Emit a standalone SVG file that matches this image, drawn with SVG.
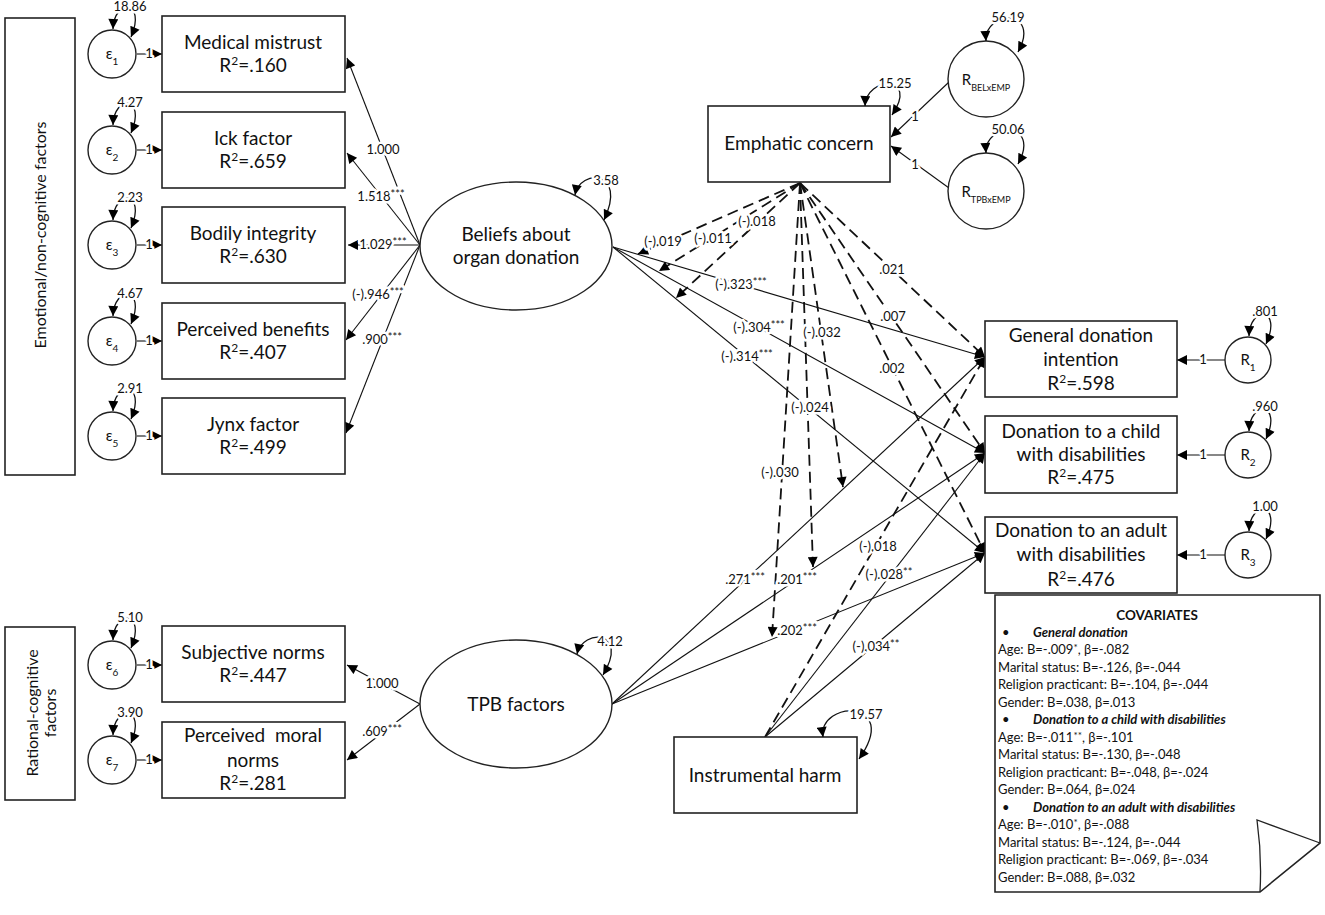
<svg xmlns="http://www.w3.org/2000/svg" width="1325" height="915" viewBox="0 0 1325 915">
<defs>
<marker id="ah" viewBox="0 0 10 10" refX="10" refY="5" markerWidth="12" markerHeight="10" markerUnits="userSpaceOnUse" orient="auto-start-reverse"><path d="M0,0 L10,5 L0,10 Z" fill="#000"/></marker>
</defs>
<style>
text { font-family: Lato, "Open Sans", "Liberation Sans", sans-serif; fill: #111; }
.box { fill: #fff; stroke: #222; stroke-width: 1.6; }
.node { fill: #fff; stroke: #222; stroke-width: 1.4; }
.t { font-size: 19px; text-anchor: middle; }
.ln { fill: none; stroke: #111; stroke-width: 1.1; marker-end: url(#ah); }
.dl { fill: none; stroke: #111; stroke-width: 1.8; stroke-dasharray: 11 6; marker-end: url(#ah); }
.loop { fill: none; stroke: #111; stroke-width: 1.3; marker-start: url(#ah); marker-end: url(#ah); }
.lbl { font-size: 13px; text-anchor: middle; paint-order: stroke; stroke: #fff; stroke-width: 5px; stroke-linejoin: round; }
.st { font-size: 11px; }
.cat { font-size: 16px; text-anchor: middle; }
.eps { font-size: 15px; text-anchor: middle; }
.cov { font-size: 13px; }
.covh { font-size: 13px; font-style: italic; font-weight: bold; }
</style>
<rect width="1325" height="915" fill="#fff"/>

<!-- connectors -->
<g id="connectors">
  <path class="ln" d="M420,245 L347,58"/>
  <path class="ln" d="M420,245 L347,153"/>
  <path class="ln" d="M420,245 L348,245"/>
  <path class="ln" d="M420,245 L346,340"/>
  <path class="ln" d="M420,245 L346,433"/>
  <path class="ln" d="M420,704 L347,665"/>
  <path class="ln" d="M420,704 L347,760"/>
  <path class="ln" d="M137,54 L162,54"/>
  <path class="ln" d="M137,150 L162,150"/>
  <path class="ln" d="M137,245 L162,245"/>
  <path class="ln" d="M137,341 L162,341"/>
  <path class="ln" d="M137,436 L162,436"/>
  <path class="ln" d="M137,665 L162,665"/>
  <path class="ln" d="M137,760 L162,760"/>
  <path class="ln" d="M1225,360 L1177,360"/>
  <path class="ln" d="M1225,455 L1177,455"/>
  <path class="ln" d="M1225,555 L1177,555"/>
  <path class="ln" d="M949,82 L891,137"/>
  <path class="ln" d="M949,188 L891,146"/>
  <path class="ln" d="M613,247 L985,357"/>
  <path class="ln" d="M613,247 L985,453"/>
  <path class="ln" d="M613,247 L985,553"/>
  <path class="ln" d="M612,704 L985,357"/>
  <path class="ln" d="M612,704 L985,453"/>
  <path class="ln" d="M612,704 L985,553"/>
  <path class="dl" d="M800,183 L985,357"/>
  <path class="dl" d="M800,183 L985,453"/>
  <path class="dl" d="M800,183 L985,553"/>
  <path class="dl" d="M800,183 L638,254"/>
  <path class="dl" d="M800,183 L659,271"/>
  <path class="dl" d="M800,183 L676,298"/>
  <path class="dl" d="M800,183 L843,487"/>
  <path class="dl" d="M800,183 L813,567"/>
  <path class="dl" d="M800,183 L772,637"/>
  <path class="dl" d="M765,737 L985,357"/>
  <path class="ln" d="M765,737 L985,453"/>
  <path class="ln" d="M765,737 L985,553"/>
</g>

<!-- connector labels -->
<g id="connector-labels">
  <text class="lbl" x="383" y="154">1.000</text>
  <text class="lbl" x="381" y="201">1.518<tspan class="st" dy="-3">***</tspan></text>
  <text class="lbl" x="383" y="249">1.029<tspan class="st" dy="-3">***</tspan></text>
  <text class="lbl" x="378" y="299">(-).946<tspan class="st" dy="-3">***</tspan></text>
  <text class="lbl" x="382" y="344">.900<tspan class="st" dy="-3">***</tspan></text>
  <text class="lbl" x="382" y="688">1.000</text>
  <text class="lbl" x="382" y="736">.609<tspan class="st" dy="-3">***</tspan></text>
  <text class="lbl" x="149" y="58">1</text>
  <text class="lbl" x="149" y="154">1</text>
  <text class="lbl" x="149" y="249">1</text>
  <text class="lbl" x="149" y="345">1</text>
  <text class="lbl" x="149" y="440">1</text>
  <text class="lbl" x="149" y="669">1</text>
  <text class="lbl" x="149" y="764">1</text>
  <text class="lbl" x="1203" y="364">1</text>
  <text class="lbl" x="1203" y="459">1</text>
  <text class="lbl" x="1203" y="559">1</text>
  <text class="lbl" x="915" y="121">1</text>
  <text class="lbl" x="915" y="169">1</text>
  <text class="lbl" x="741" y="289">(-).323<tspan class="st" dy="-3">***</tspan></text>
  <text class="lbl" x="759" y="332">(-).304<tspan class="st" dy="-3">***</tspan></text>
  <text class="lbl" x="747" y="361">(-).314<tspan class="st" dy="-3">***</tspan></text>
  <text class="lbl" x="745" y="584">.271<tspan class="st" dy="-3">***</tspan></text>
  <text class="lbl" x="797" y="584">.201<tspan class="st" dy="-3">***</tspan></text>
  <text class="lbl" x="797" y="635">.202<tspan class="st" dy="-3">***</tspan></text>
  <text class="lbl" x="892" y="274">.021</text>
  <text class="lbl" x="893" y="321">.007</text>
  <text class="lbl" x="892" y="373">.002</text>
  <text class="lbl" x="663" y="246">(-).019</text>
  <text class="lbl" x="713" y="243">(-).011</text>
  <text class="lbl" x="757" y="226">(-).018</text>
  <text class="lbl" x="822" y="337">(-).032</text>
  <text class="lbl" x="810" y="412">(-).024</text>
  <text class="lbl" x="780" y="477">(-).030</text>
  <text class="lbl" x="878" y="551">(-).018</text>
  <text class="lbl" x="889" y="579">(-).028<tspan class="st" dy="-3">**</tspan></text>
  <text class="lbl" x="876" y="651">(-).034<tspan class="st" dy="-3">**</tspan></text>
</g>

<!-- category boxes -->
<g id="cat-emotional">
  <rect class="box" x="5" y="18" width="70" height="457"/>
  <text class="cat" transform="translate(46,235) rotate(-90)">Emotional/non-cognitive factors</text>
</g>
<g id="cat-rational">
  <rect class="box" x="5" y="627" width="70" height="173"/>
  <text class="cat" transform="translate(38,713) rotate(-90)">Rational-cognitive</text>
  <text class="cat" transform="translate(56,713) rotate(-90)">factors</text>
</g>

<!-- error terms -->
<g id="e1"><circle class="node" cx="112" cy="54" r="24"/><text class="eps" x="112" y="59">ε<tspan font-size="10" baseline-shift="sub">1</tspan></text>
  <path class="loop" d="M113,29 C114,-2 147,0 131,37"/><text class="lbl" x="130" y="11">18.86</text></g>
<g id="e2"><circle class="node" cx="112" cy="150" r="24"/><text class="eps" x="112" y="155">ε<tspan font-size="10" baseline-shift="sub">2</tspan></text>
  <path class="loop" d="M113,125 C114,94 147,96 131,133"/><text class="lbl" x="130" y="107">4.27</text></g>
<g id="e3"><circle class="node" cx="112" cy="245" r="24"/><text class="eps" x="112" y="250">ε<tspan font-size="10" baseline-shift="sub">3</tspan></text>
  <path class="loop" d="M113,220 C114,189 147,191 131,228"/><text class="lbl" x="130" y="202">2.23</text></g>
<g id="e4"><circle class="node" cx="112" cy="341" r="24"/><text class="eps" x="112" y="346">ε<tspan font-size="10" baseline-shift="sub">4</tspan></text>
  <path class="loop" d="M113,316 C114,285 147,287 131,324"/><text class="lbl" x="130" y="298">4.67</text></g>
<g id="e5"><circle class="node" cx="112" cy="436" r="24"/><text class="eps" x="112" y="441">ε<tspan font-size="10" baseline-shift="sub">5</tspan></text>
  <path class="loop" d="M113,411 C114,380 147,382 131,419"/><text class="lbl" x="130" y="393">2.91</text></g>
<g id="e6"><circle class="node" cx="112" cy="665" r="24"/><text class="eps" x="112" y="670">ε<tspan font-size="10" baseline-shift="sub">6</tspan></text>
  <path class="loop" d="M113,640 C114,609 147,611 131,648"/><text class="lbl" x="130" y="622">5.10</text></g>
<g id="e7"><circle class="node" cx="112" cy="760" r="24"/><text class="eps" x="112" y="765">ε<tspan font-size="10" baseline-shift="sub">7</tspan></text>
  <path class="loop" d="M113,735 C114,704 147,706 131,743"/><text class="lbl" x="130" y="717">3.90</text></g>

<!-- indicator boxes -->
<g id="medical-mistrust"><rect class="box" x="162" y="16" width="183" height="76"/>
  <text class="t" x="253" y="49">Medical mistrust</text><text class="t" x="253" y="72">R<tspan font-size="12" baseline-shift="super">2</tspan>=.160</text></g>
<g id="ick-factor"><rect class="box" x="162" y="112" width="183" height="76"/>
  <text class="t" x="253" y="145">Ick factor</text><text class="t" x="253" y="168">R<tspan font-size="12" baseline-shift="super">2</tspan>=.659</text></g>
<g id="bodily-integrity"><rect class="box" x="162" y="207" width="183" height="76"/>
  <text class="t" x="253" y="240">Bodily integrity</text><text class="t" x="253" y="263">R<tspan font-size="12" baseline-shift="super">2</tspan>=.630</text></g>
<g id="perceived-benefits"><rect class="box" x="162" y="303" width="183" height="76"/>
  <text class="t" x="253" y="336">Perceived benefits</text><text class="t" x="253" y="359">R<tspan font-size="12" baseline-shift="super">2</tspan>=.407</text></g>
<g id="jynx-factor"><rect class="box" x="162" y="398" width="183" height="76"/>
  <text class="t" x="253" y="431">Jynx factor</text><text class="t" x="253" y="454">R<tspan font-size="12" baseline-shift="super">2</tspan>=.499</text></g>
<g id="subjective-norms"><rect class="box" x="162" y="626" width="183" height="76"/>
  <text class="t" x="253" y="659">Subjective norms</text><text class="t" x="253" y="682">R<tspan font-size="12" baseline-shift="super">2</tspan>=.447</text></g>
<g id="perceived-moral-norms"><rect class="box" x="162" y="722" width="183" height="76"/>
  <text class="t" x="253" y="742" xml:space="preserve">Perceived  moral</text><text class="t" x="253" y="767">norms</text><text class="t" x="253" y="790">R<tspan font-size="12" baseline-shift="super">2</tspan>=.281</text></g>

<!-- latent factors -->
<g id="beliefs"><ellipse class="node" cx="516" cy="246" rx="96" ry="64"/>
  <text class="t" x="516" y="241">Beliefs about</text><text class="t" x="516" y="264">organ donation</text>
  <path class="loop" d="M575,195 C580,168 628,170 604,220"/><text class="lbl" x="606" y="185">3.58</text></g>
<g id="tpb"><ellipse class="node" cx="516" cy="704" rx="96" ry="64"/>
  <text class="t" x="516" y="711">TPB factors</text>
  <path class="loop" d="M577,654 C583,628 630,630 603,675"/><text class="lbl" x="610" y="646">4.12</text></g>

<!-- emphatic concern -->
<g id="emphatic-concern"><rect class="box" x="708" y="106" width="182" height="76"/>
  <text class="t" x="799" y="150">Emphatic concern</text>
  <path class="loop" d="M865,106 C866,76 920,74 892,115"/><text class="lbl" x="895" y="88">15.25</text></g>
<g id="r-belxemp"><circle class="node" cx="986" cy="79" r="38"/>
  <text x="986" y="85" font-size="15" text-anchor="middle">R<tspan font-size="9" baseline-shift="sub">BELxEMP</tspan></text>
  <path class="loop" d="M986,41 C984,10 1042,8 1018,52"/><text class="lbl" x="1008" y="22">56.19</text></g>
<g id="r-tpbxemp"><circle class="node" cx="986" cy="191" r="38"/>
  <text x="986" y="197" font-size="15" text-anchor="middle">R<tspan font-size="9" baseline-shift="sub">TPBxEMP</tspan></text>
  <path class="loop" d="M986,153 C984,122 1042,120 1018,164"/><text class="lbl" x="1008" y="134">50.06</text></g>

<!-- instrumental harm -->
<g id="instrumental-harm"><rect class="box" x="674" y="737" width="183" height="76"/>
  <text class="t" x="765" y="782">Instrumental harm</text>
  <path class="loop" d="M823,737 C818,700 902,698 859,759"/><text class="lbl" x="866" y="719">19.57</text></g>

<!-- outcomes -->
<g id="general-donation"><rect class="box" x="985" y="321" width="192" height="76"/>
  <text class="t" x="1081" y="342">General donation</text><text class="t" x="1081" y="366">intention</text>
  <text class="t" x="1081" y="390">R<tspan font-size="12" baseline-shift="super">2</tspan>=.598</text></g>
<g id="donation-child"><rect class="box" x="985" y="416" width="192" height="77"/>
  <text class="t" x="1081" y="438">Donation to a child</text><text class="t" x="1081" y="461">with disabilities</text>
  <text class="t" x="1081" y="484">R<tspan font-size="12" baseline-shift="super">2</tspan>=.475</text></g>
<g id="donation-adult"><rect class="box" x="985" y="517" width="192" height="76"/>
  <text class="t" x="1081" y="537">Donation to an adult</text><text class="t" x="1081" y="561">with disabilities</text>
  <text class="t" x="1081" y="586">R<tspan font-size="12" baseline-shift="super">2</tspan>=.476</text></g>

<!-- residuals -->
<g id="r1"><circle class="node" cx="1248" cy="360" r="23"/><text class="eps" x="1248" y="365">R<tspan font-size="10" baseline-shift="sub">1</tspan></text>
  <path class="loop" d="M1249,336 C1250,305 1283,307 1266,344"/><text class="lbl" x="1265" y="316">.801</text></g>
<g id="r2"><circle class="node" cx="1248" cy="455" r="23"/><text class="eps" x="1248" y="460">R<tspan font-size="10" baseline-shift="sub">2</tspan></text>
  <path class="loop" d="M1249,431 C1250,400 1283,402 1266,439"/><text class="lbl" x="1265" y="411">.960</text></g>
<g id="r3"><circle class="node" cx="1248" cy="555" r="23"/><text class="eps" x="1248" y="560">R<tspan font-size="10" baseline-shift="sub">3</tspan></text>
  <path class="loop" d="M1249,531 C1250,500 1283,502 1266,539"/><text class="lbl" x="1265" y="511">1.00</text></g>

<!-- covariates note -->
<g id="covariates">
  <path class="box" d="M995,595 L1320,595 L1320,843 L1260,892 L995,892 Z"/>
  <path d="M1320,843 L1257,820 Q1262,856 1260,892" fill="none" stroke="#222" stroke-width="1.3"/>
  <text x="1157" y="620" font-size="13.5" font-weight="bold" text-anchor="middle">COVARIATES</text>
  <text class="cov" x="1002" y="637">•</text><text class="covh" x="1033" y="637">General donation</text>
  <text class="cov" x="998" y="654">Age: B=-.009<tspan font-size="10" dy="-3">*</tspan><tspan dy="3">, β=-.082</tspan></text>
  <text class="cov" x="998" y="672">Marital status: B=-.126, β=-.044</text>
  <text class="cov" x="998" y="689">Religion practicant: B=-.104, β=-.044</text>
  <text class="cov" x="998" y="707">Gender: B=.038, β=.013</text>
  <text class="cov" x="1002" y="724">•</text><text class="covh" x="1033" y="724">Donation to a child with disabilities</text>
  <text class="cov" x="998" y="742">Age: B=-.011<tspan font-size="10" dy="-3">**</tspan><tspan dy="3">, β=-.101</tspan></text>
  <text class="cov" x="998" y="759">Marital status: B=-.130, β=-.048</text>
  <text class="cov" x="998" y="777">Religion practicant: B=-.048, β=-.024</text>
  <text class="cov" x="998" y="794">Gender: B=.064, β=.024</text>
  <text class="cov" x="1002" y="812">•</text><text class="covh" x="1033" y="812">Donation to an adult with disabilities</text>
  <text class="cov" x="998" y="829">Age: B=-.010<tspan font-size="10" dy="-3">*</tspan><tspan dy="3">, β=-.088</tspan></text>
  <text class="cov" x="998" y="847">Marital status: B=-.124, β=-.044</text>
  <text class="cov" x="998" y="864">Religion practicant: B=-.069, β=-.034</text>
  <text class="cov" x="998" y="882">Gender: B=.088, β=.032</text>
</g>
</svg>
